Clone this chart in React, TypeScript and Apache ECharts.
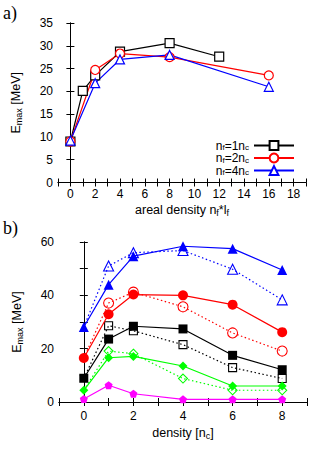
import React, { useEffect, useRef } from "react";
import * as echarts from "echarts";

// ---- Panel a) data ----
const areal1 = [0, 1, 2, 4, 8, 12];
const emax1 = [9.0, 20.1, 23.5, 28.7, 30.6, 27.6];
const areal2 = [0, 2, 4, 8, 16];
const emax2 = [9.0, 24.7, 28.3, 27.5, 23.5];
const areal4 = [0, 2, 4, 8, 16];
const emax4 = [9.2, 21.8, 27.0, 28.0, 21.0];

// ---- Panel b) data ----
const densities = [0, 1, 2, 4, 6, 8];
const blueSolid = [28.1, 44.0, 54.7, 58.4, 57.5, 49.5];
const blueDotted = [28.1, 51.0, 56.0, 56.8, 49.8, 38.3];
const redSolid = [16.5, 32.9, 40.3, 40.0, 36.5, 26.2];
const redDotted = [16.5, 37.1, 41.2, 35.7, 25.9, 19.1];
const blackSolid = [8.9, 23.6, 28.4, 27.4, 17.5, 12.1];
const blackDotted = [8.9, 28.6, 26.7, 21.5, 12.9, 8.8];
const greenSolid = [4.4, 16.6, 17.1, 13.5, 6.0, 6.0];
const greenDotted = [4.4, 19.1, 18.1, 8.8, 4.4, 4.4];
const magentaSolid = [1.1, 6.3, 3.1, 1.0, 1.0, 1.0];

const legendNames = ["nf1", "nf2", "nf4"];
const legendLabels: Record<string, string> = {
  nf1: "{t|n}{s|f}{t|=1n}{s|c}",
  nf2: "{t|n}{s|f}{t|=2n}{s|c}",
  nf4: "{t|n}{s|f}{t|=4n}{s|c}",
};

const FONT = "'Liberation Sans', Arial, sans-serif";
const pent = "path://M0,-1 L0.951,-0.309 L0.588,0.809 L-0.588,0.809 L-0.951,-0.309 Z";

const richText = {
  t: { fontSize: 12.5, fontFamily: FONT, color: "#000" },
  s: { fontSize: 9, fontFamily: FONT, color: "#000", padding: [6, 0, 0, 0] },
};
const legendRich = {
  t: { fontSize: 12, fontFamily: FONT, color: "#000", lineHeight: 12 },
  s: { fontSize: 8, fontFamily: FONT, color: "#000", lineHeight: 8, padding: [4, 0, 0, 0] },
};

function pairs(xs: number[], ys: number[]) {
  return xs.map((x, i) => [x, ys[i]]);
}

function axisBase(gridIndex: number, min: number, max: number, interval: number) {
  return {
    type: "value",
    gridIndex,
    min,
    max,
    interval,
    axisLine: { show: true, lineStyle: { color: "#000", width: 1 } },
    axisTick: { show: true, inside: true, length: 4, lineStyle: { color: "#000" } },
    splitLine: { show: false },
  };
}

export default function App() {
  const ref = useRef<HTMLDivElement>(null);
  useEffect(() => {
    if (!ref.current) return;
    const chart = echarts.init(ref.current, undefined, { renderer: "svg" });

    const evenLabel = (v: number) => (v >= 0 && v % 2 === 0 ? String(v) : "");
    const labelStyle = { fontSize: 12, fontFamily: FONT, color: "#000", margin: 5 };

    const openLine = (name: string, xs: number[], ys: number[], color: string, symbol: string) => ({
      name,
      type: "line",
      xAxisIndex: 0,
      yAxisIndex: 0,
      data: pairs(xs, ys),
      symbol,
      symbolSize: 9,
      lineStyle: { color, width: 1.2 },
      itemStyle: { color: "#fff", borderColor: color, borderWidth: 1.2 },
    });

    const solidB = (ys: number[], color: string, symbol: string, size: number) => ({
      type: "line",
      xAxisIndex: 2,
      yAxisIndex: 2,
      data: pairs(densities, ys),
      symbol,
      symbolSize: size,
      lineStyle: { color, width: 1.2 },
      itemStyle: { color, borderColor: color, borderWidth: 0 },
      z: 3,
    });
    const dottedB = (ys: number[], color: string, symbol: string, size: number) => ({
      type: "line",
      xAxisIndex: 2,
      yAxisIndex: 2,
      data: pairs(densities, ys).map((p, i) =>
        i === 0 ? { value: p, symbolSize: 0 } : { value: p }
      ),
      symbol,
      symbolSize: size,
      lineStyle: { color, width: 1.2, type: [1.5, 2.5] },
      itemStyle: { color: "rgba(0,0,0,0)", borderColor: color, borderWidth: 1.1 },
      z: 2,
    });

    const legendTops = [139.5, 152, 164.5];

    chart.setOption({
      animation: false,
      backgroundColor: "#fff",
      grid: [
        { left: 58, top: 23, width: 248, height: 159.5 },
        { left: 59, top: 242, width: 248, height: 160 },
      ],
      legend: legendNames.map((n, i) => ({
        data: [n],
        right: 37,
        top: legendTops[i],
        align: "right",
        itemWidth: 40,
        itemHeight: 11,
        padding: 0,
        formatter: (name: string) => legendLabels[name],
        textStyle: { rich: legendRich },
      })),
      graphic: [
        { type: "text", left: 3, top: 4, style: { text: "a)", font: "18px 'Liberation Serif', serif", fill: "#000" } },
        { type: "text", left: 3, top: 219, style: { text: "b)", font: "18px 'Liberation Serif', serif", fill: "#000" } },
      ],
      xAxis: [
        {
          ...axisBase(0, -1, 19, 1),
          position: "bottom",
          axisLabel: { ...labelStyle, formatter: evenLabel },
          name: "{t|areal density n}{s|f}{t|*l}{s|f}",
          nameLocation: "middle",
          nameGap: 20,
          nameTextStyle: { rich: richText },
        },
        { ...axisBase(0, -1, 19, 1), position: "top", axisLabel: { show: false } },
        {
          ...axisBase(1, -1, 9, 1),
          position: "bottom",
          axisLabel: { ...labelStyle, margin: 8, formatter: evenLabel },
          name: "{t|density [n}{s|c}{t|]}",
          nameLocation: "middle",
          nameGap: 23,
          nameTextStyle: { rich: richText },
        },
        { ...axisBase(1, -1, 9, 1), position: "top", axisLabel: { show: false } },
      ],
      yAxis: [
        {
          ...axisBase(0, 0, 35, 5),
          position: "left",
          axisLabel: { ...labelStyle },
          name: "{t|E}{s|max}{t| [MeV]}",
          nameLocation: "middle",
          nameGap: 35,
          nameTextStyle: { rich: richText },
        },
        { ...axisBase(0, 0, 35, 5), position: "right", axisLabel: { show: false } },
        {
          ...axisBase(1, 0, 60, 10),
          position: "left",
          axisLabel: { ...labelStyle, formatter: (v: number) => (v % 20 === 0 ? String(v) : "") },
          name: "{t|E}{s|max}{t| [MeV]}",
          nameLocation: "middle",
          nameGap: 35,
          nameTextStyle: { rich: richText },
        },
        { ...axisBase(1, 0, 60, 10), position: "right", axisLabel: { show: false } },
      ],
      series: [
        openLine("nf1", areal1, emax1, "#000000", "rect"),
        openLine("nf2", areal2, emax2, "#ff0000", "circle"),
        openLine("nf4", areal4, emax4, "#0000ff", "triangle"),
        dottedB(blueDotted, "#0000ff", "triangle", 10),
        dottedB(redDotted, "#ff0000", "circle", 10),
        dottedB(blackDotted, "#000000", "rect", 8),
        dottedB(greenDotted, "#00ff00", "diamond", 9),
        solidB(blueSolid, "#0000ff", "triangle", 10),
        solidB(redSolid, "#ff0000", "circle", 10),
        solidB(blackSolid, "#000000", "rect", 9),
        solidB(greenSolid, "#00ff00", "diamond", 9),
        solidB(magentaSolid, "#ff00ff", pent, 8),
      ],
    });
    return () => chart.dispose();
  }, []);
  return (
    <div
      ref={ref}
      style={{ position: "fixed", left: 0, top: 0, width: 332, height: 460, background: "#fff" }}
    />
  );
}
